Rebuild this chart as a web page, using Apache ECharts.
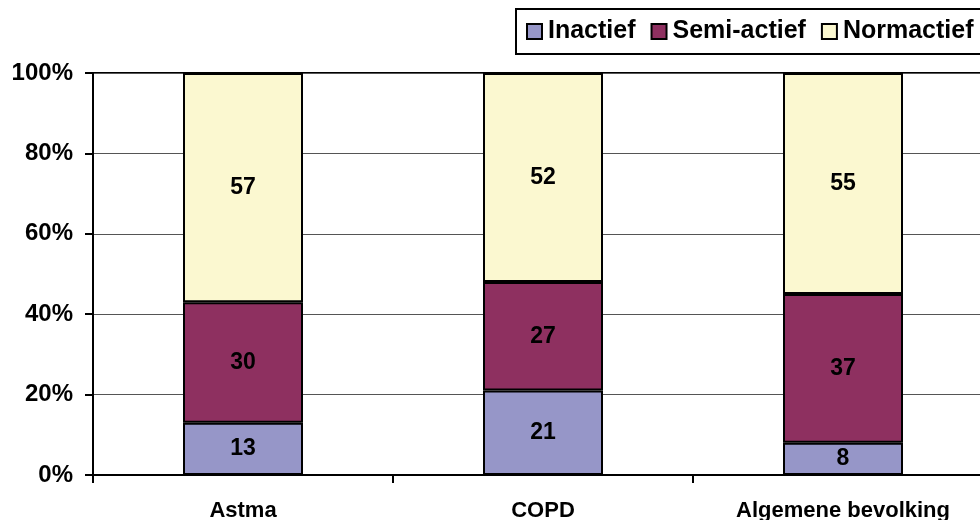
<!DOCTYPE html>
<html>
<head>
<meta charset="utf-8">
<script src="https://cdn.jsdelivr.net/npm/echarts@6/dist/echarts.min.js"></script>
<style>html,body{margin:0;padding:0;background:#fff;overflow:hidden}#c{width:993px;height:520px}</style>
</head>
<body>
<div id="c"></div>
<script>
var categories = ['Astma', 'COPD', 'Algemene bevolking'];
var inactief = [13, 21, 8];
var semiActief = [30, 27, 37];
var normactief = [57, 52, 55];
var yTicks = [0, 20, 40, 60, 80, 100];

var FONT = 'Arial, "Liberation Sans", sans-serif';
function seg(name, data, color) {
  return {
    name: name, type: 'bar', stack: 'total', data: data, barWidth: 120,
    itemStyle: { color: color, borderColor: '#000', borderWidth: 2 },
    label: { show: true, position: 'inside', color: '#000', fontWeight: 'bold', fontSize: 23, fontFamily: FONT },
    emphasis: { disabled: true }
  };
}
var chart = echarts.init(document.getElementById('c'));
chart.setOption({
  animation: false,
  backgroundColor: '#fff',
  textStyle: { fontFamily: FONT },
  legend: {
    left: 516, top: 9, padding: [10, 8, 10, 10],
    borderColor: '#000', borderWidth: 2,
    itemWidth: 15, itemHeight: 15, itemGap: 15,
    icon: 'rect',
    itemStyle: { borderColor: '#000', borderWidth: 2 },
    textStyle: { fontSize: 25, fontWeight: 'bold', color: '#000', fontFamily: FONT, padding: [0, 0, 0, 1] },
    data: ['Inactief', 'Semi-actief', 'Normactief']
  },
  grid: { left: 93, top: 73, bottom: 45, right: 0, show: true, borderColor: '#000', borderWidth: 2, containLabel: false, outerBoundsMode: 'none' },
  xAxis: {
    type: 'category', data: categories,
    axisLine: { lineStyle: { color: '#000', width: 2 } },
    axisTick: { show: true, length: 8, lineStyle: { color: '#000', width: 2 } },
    axisLabel: { color: '#000', fontWeight: 'bold', fontSize: 22, margin: 25, fontFamily: FONT }
  },
  yAxis: {
    type: 'value', min: yTicks[0], max: yTicks[yTicks.length - 1], interval: 20,
    axisLine: { show: true, lineStyle: { color: '#000', width: 2 } },
    axisTick: { show: true, length: 8, lineStyle: { color: '#000', width: 2 } },
    splitLine: { show: true, lineStyle: { color: '#555', width: 1 } },
    axisLabel: { color: '#000', fontWeight: 'bold', fontSize: 24, margin: 20, fontFamily: FONT, formatter: '{value}%' }
  },
  series: [
    seg('Inactief', inactief, '#9696C8'),
    seg('Semi-actief', semiActief, '#8E3060'),
    seg('Normactief', normactief, '#FBF8D0')
  ]
});
</script>
</body>
</html>
